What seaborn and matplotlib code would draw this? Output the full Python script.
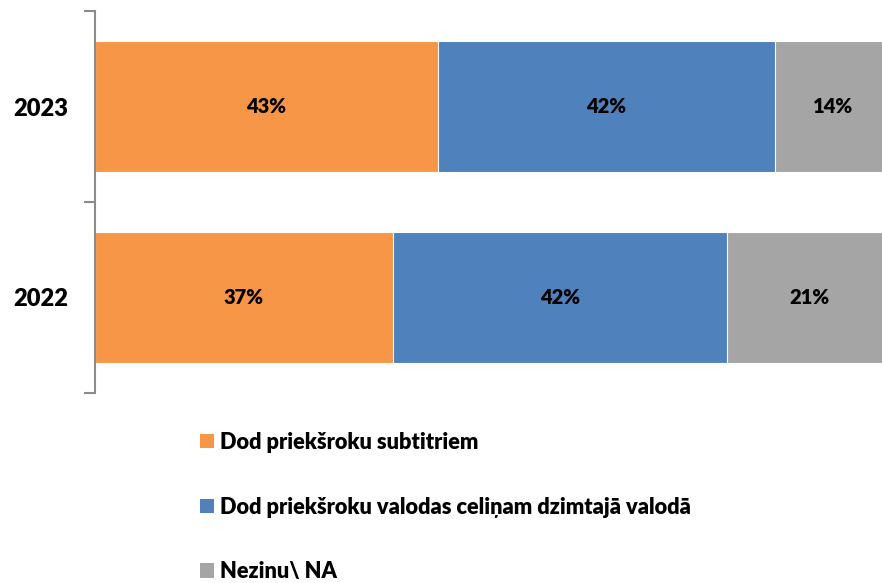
import numpy as np
import pandas as pd
import matplotlib
matplotlib.use("Agg")
import matplotlib.pyplot as plt
import seaborn as sns
from matplotlib.patches import Patch

years = ["2023", "2022"]
series = ["Dod priekšroku subtitriem",
          "Dod priekšroku valodas celiņam dzimtajā valodā",
          "Nezinu\\ NA"]
subtitri = [43.1, 37.4]
celins = [42.3, 42.0]
nezinu = [14.6, 20.6]
labels_subtitri = ["43%", "37%"]
labels_celins = ["42%", "42%"]
labels_nezinu = ["14%", "21%"]
colors = ["#F79646", "#4F81BD", "#A5A5A5"]

sns.set_style("white")
plt.rcParams['font.family'] = ['Lato', 'DejaVu Sans']
plt.rcParams['text.color'] = 'black'

df = pd.DataFrame({"year": years, "s1": subtitri, "s2": celins, "s3": nezinu})
df["c1"] = df["s1"]
df["c2"] = df["s1"] + df["s2"]
df["c3"] = df["c2"] + df["s3"]

fig = plt.figure(figsize=(8.82, 5.83), dpi=100)
ax = fig.add_axes([95/882, (583-393)/583, (882-95)/882, (393-11)/583])

bar_w = 0.686
for col, c in zip(["c3", "c2", "c1"], colors[::-1]):
    sns.barplot(data=df, y="year", x=col, orient="h", color=c, width=bar_w,
                saturation=1, edgecolor="white", linewidth=0.8, ax=ax, order=years)

W = "heavy"
# labels
for i, y in enumerate(years):
    starts = [0, df["c1"][i], df["c2"][i]]
    widths = [df["s1"][i], df["s2"][i], df["s3"][i]]
    labs = [labels_subtitri[i], labels_celins[i], labels_nezinu[i]]
    for s, w, l in zip(starts, widths, labs):
        ax.text(s + w / 2, i, l, ha="center", va="center",
                fontsize=14.5, fontweight=W, color="black")

ax.set_xlim(0, (882 - 95) / 7.96)
ax.set_ylim(1.5, -0.5)
ax.set_xlabel("")
ax.set_ylabel("")
ax.set_xticks([])
ax.set_yticks([0, 1])
ax.set_yticklabels(years)
for t in ax.get_yticklabels():
    t.set_fontsize(17)
    t.set_fontweight(W)
    t.set_color("black")
ax.tick_params(axis="y", which="major", length=0, pad=19)
ax.set_yticks([-0.5, 0.5, 1.5], minor=True)
ax.tick_params(axis="y", which="minor", left=True, length=8, width=1.5,
               color="#8C8C8C", direction="out")
for sp in ["top", "right", "bottom"]:
    ax.spines[sp].set_visible(False)
ax.spines["left"].set_color("#8C8C8C")
ax.spines["left"].set_linewidth(1.5)

handles = [Patch(facecolor=c, edgecolor="none") for c in colors]
fig.legend(handles, series, loc="upper left", bbox_to_anchor=(200/882, 1 - 432/583),
           frameon=False, prop={"weight": W, "size": 15.7}, labelcolor="black",
           handlelength=0.62, handleheight=0.62, handletextpad=0.32,
           labelspacing=2.0, borderaxespad=0, borderpad=0)

fig.savefig("out.png", dpi=100)
